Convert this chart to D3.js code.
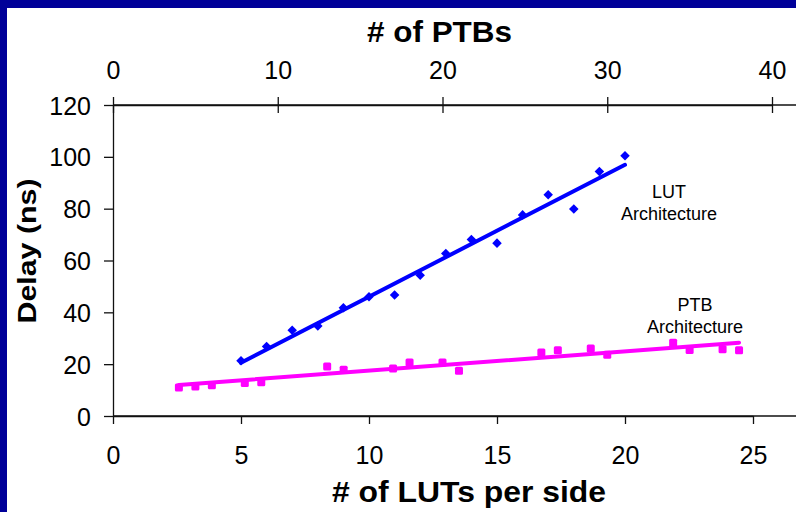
<!DOCTYPE html>
<html>
<head>
<meta charset="utf-8">
<script src="https://cdn.jsdelivr.net/npm/d3@7"></script>
<style>
  html, body { margin: 0; padding: 0; background: #000099; }
  svg { display: block; font-family: "Liberation Sans", Arial, sans-serif; }
</style>
</head>
<body>
<div id="chart"></div>
<script>
// LUT architecture: x = # of LUTs per side (bottom axis)
var lutX = [5, 6, 7, 8, 9, 10, 11, 12, 13, 14, 15, 16, 17, 18, 19, 20];
var lutDelay = [21.3, 26.8, 33.1, 34.7, 41.8, 46.0, 46.7, 54.3, 62.7, 68.1, 66.7, 77.6, 85.4, 79.9, 94.3, 100.4];

// PTB architecture: x = # of PTBs (top axis)
var ptbX = [4, 5, 6, 8, 9, 13, 14, 17, 18, 20, 21, 26, 27, 29, 30, 34, 35, 37, 38];
var ptbDelay = [11.0, 11.4, 11.9, 12.7, 13.0, 19.1, 17.8, 18.3, 20.6, 20.6, 17.5, 24.5, 25.4, 26.0, 23.6, 28.3, 25.5, 25.8, 25.4];

// tick labels
var lutTicks = [0, 5, 10, 15, 20, 25];
var ptbTicks = [0, 10, 20, 30, 40];
var delayTicks = [0, 20, 40, 60, 80, 100, 120];

var w = 796;
var h = 512;

var svg = d3.select('#chart')
  .append('svg')
  .attr('width', w)
  .attr('height', h);

//frame
svg.append('rect').attr('width', w).attr('height', h).attr('fill', '#000099');
svg.append('rect')
  .attr('x', 7).attr('y', 8)
  .attr('width', w - 7).attr('height', h - 8)
  .attr('fill', '#fff');

var xLut = d3.scaleLinear().domain([0, 25]).range([113, 753]);
var xPtb = d3.scaleLinear().domain([0, 40]).range([113, 772]);
var y = d3.scaleLinear().domain([0, 120]).range([416, 105]);

var axisColor = '#111';

//bottom axis
var gb = svg.append('g')
  .attr('transform', 'translate(0,' + y(0) + ')')
  .call(d3.axisBottom(xLut).tickValues(lutTicks).tickSize(8).tickSizeOuter(0).tickPadding(22));
gb.append('line').attr('x1', xLut(0)).attr('x2', w).attr('stroke', axisColor).attr('stroke-width', 1.3);

//top axis (ticks cross the line)
var gt = svg.append('g')
  .attr('transform', 'translate(0,' + y(120) + ')')
  .call(d3.axisTop(xPtb).tickValues(ptbTicks).tickSize(8).tickSizeOuter(0).tickPadding(18));
gt.selectAll('.tick line').attr('y1', 8);
gt.append('line').attr('x1', xPtb(0)).attr('x2', w).attr('stroke', axisColor).attr('stroke-width', 1.3);

//left axis
var gl = svg.append('g')
  .attr('transform', 'translate(' + xLut(0) + ',0)')
  .call(d3.axisLeft(y).tickValues(delayTicks).tickSize(9).tickSizeOuter(0).tickPadding(13));

[gb, gt, gl].forEach(function(g) {
  g.select('.domain').attr('stroke', axisColor).attr('stroke-width', 1.3);
  g.selectAll('.tick line').attr('stroke', axisColor).attr('stroke-width', 1.3);
  g.selectAll('.tick text')
    .attr('fill', '#000')
    .style('font-size', '25px')
    .style('font-family', '"Liberation Sans", Arial, sans-serif');
});
gb.selectAll('.tick text').attr('dy', '0.71em');
gl.selectAll('.tick text').attr('dy', '0.36em');

//axis titles
svg.append('text')
  .attr('x', 367).attr('y', 42)
  .attr('textLength', 145).attr('lengthAdjust', 'spacingAndGlyphs')
  .style('font-size', '29px').style('font-weight', 'bold')
  .text('# of PTBs');

svg.append('text')
  .attr('x', 332).attr('y', 502)
  .attr('textLength', 274).attr('lengthAdjust', 'spacingAndGlyphs')
  .style('font-size', '29px').style('font-weight', 'bold')
  .text('# of LUTs per side');

svg.append('text')
  .attr('transform', 'translate(36,251) rotate(-90)')
  .attr('text-anchor', 'middle')
  .attr('textLength', 145).attr('lengthAdjust', 'spacingAndGlyphs')
  .style('font-size', '26px').style('font-weight', 'bold')
  .text('Delay (ns)');

//least squares trend line
function fit(xs, ys) {
  var mx = d3.mean(xs), my = d3.mean(ys);
  var sxy = d3.sum(xs, function(d, i) { return (d - mx) * (ys[i] - my); });
  var sxx = d3.sum(xs, function(d) { return (d - mx) * (d - mx); });
  var b = sxy / sxx;
  return function(x) { return my + b * (x - mx); };
}

var lutFit = fit(lutX, lutDelay);
var ptbFit = fit(ptbX, ptbDelay);
var lutExt = d3.extent(lutX);
var ptbExt = d3.extent(ptbX);

svg.append('line')
  .attr('x1', xLut(lutExt[0])).attr('y1', y(lutFit(lutExt[0])))
  .attr('x2', xLut(lutExt[1])).attr('y2', y(lutFit(lutExt[1])))
  .attr('stroke', '#0000ff').attr('stroke-width', 4).attr('stroke-linecap', 'round');

svg.append('line')
  .attr('x1', xPtb(ptbExt[0])).attr('y1', y(ptbFit(ptbExt[0])))
  .attr('x2', xPtb(ptbExt[1])).attr('y2', y(ptbFit(ptbExt[1])))
  .attr('stroke', '#ff00ff').attr('stroke-width', 4).attr('stroke-linecap', 'round');

//markers
var diamond = d3.symbol().type(d3.symbolDiamond2).size(58);
svg.append('g').selectAll('path')
  .data(lutX)
  .enter()
  .append('path')
  .attr('d', diamond)
  .attr('transform', function(d, i) {
    return 'translate(' + xLut(d) + ',' + y(lutDelay[i]) + ')';
  })
  .attr('fill', '#0000ff');

svg.append('g').selectAll('rect')
  .data(ptbX)
  .enter()
  .append('rect')
  .attr('x', function(d) { return xPtb(d) - 4; })
  .attr('y', function(d, i) { return y(ptbDelay[i]) - 4; })
  .attr('width', 8).attr('height', 8).attr('rx', 1.5)
  .attr('fill', '#ff00ff');

//series labels
var labels = [
  { t: 'LUT', x: 669, y: 198 },
  { t: 'Architecture', x: 669, y: 220 },
  { t: 'PTB', x: 695, y: 311 },
  { t: 'Architecture', x: 695, y: 333 }
];
svg.append('g').selectAll('text')
  .data(labels)
  .enter()
  .append('text')
  .attr('x', function(d) { return d.x; })
  .attr('y', function(d) { return d.y; })
  .attr('text-anchor', 'middle')
  .style('font-size', '18px')
  .text(function(d) { return d.t; });
</script>
</body>
</html>
